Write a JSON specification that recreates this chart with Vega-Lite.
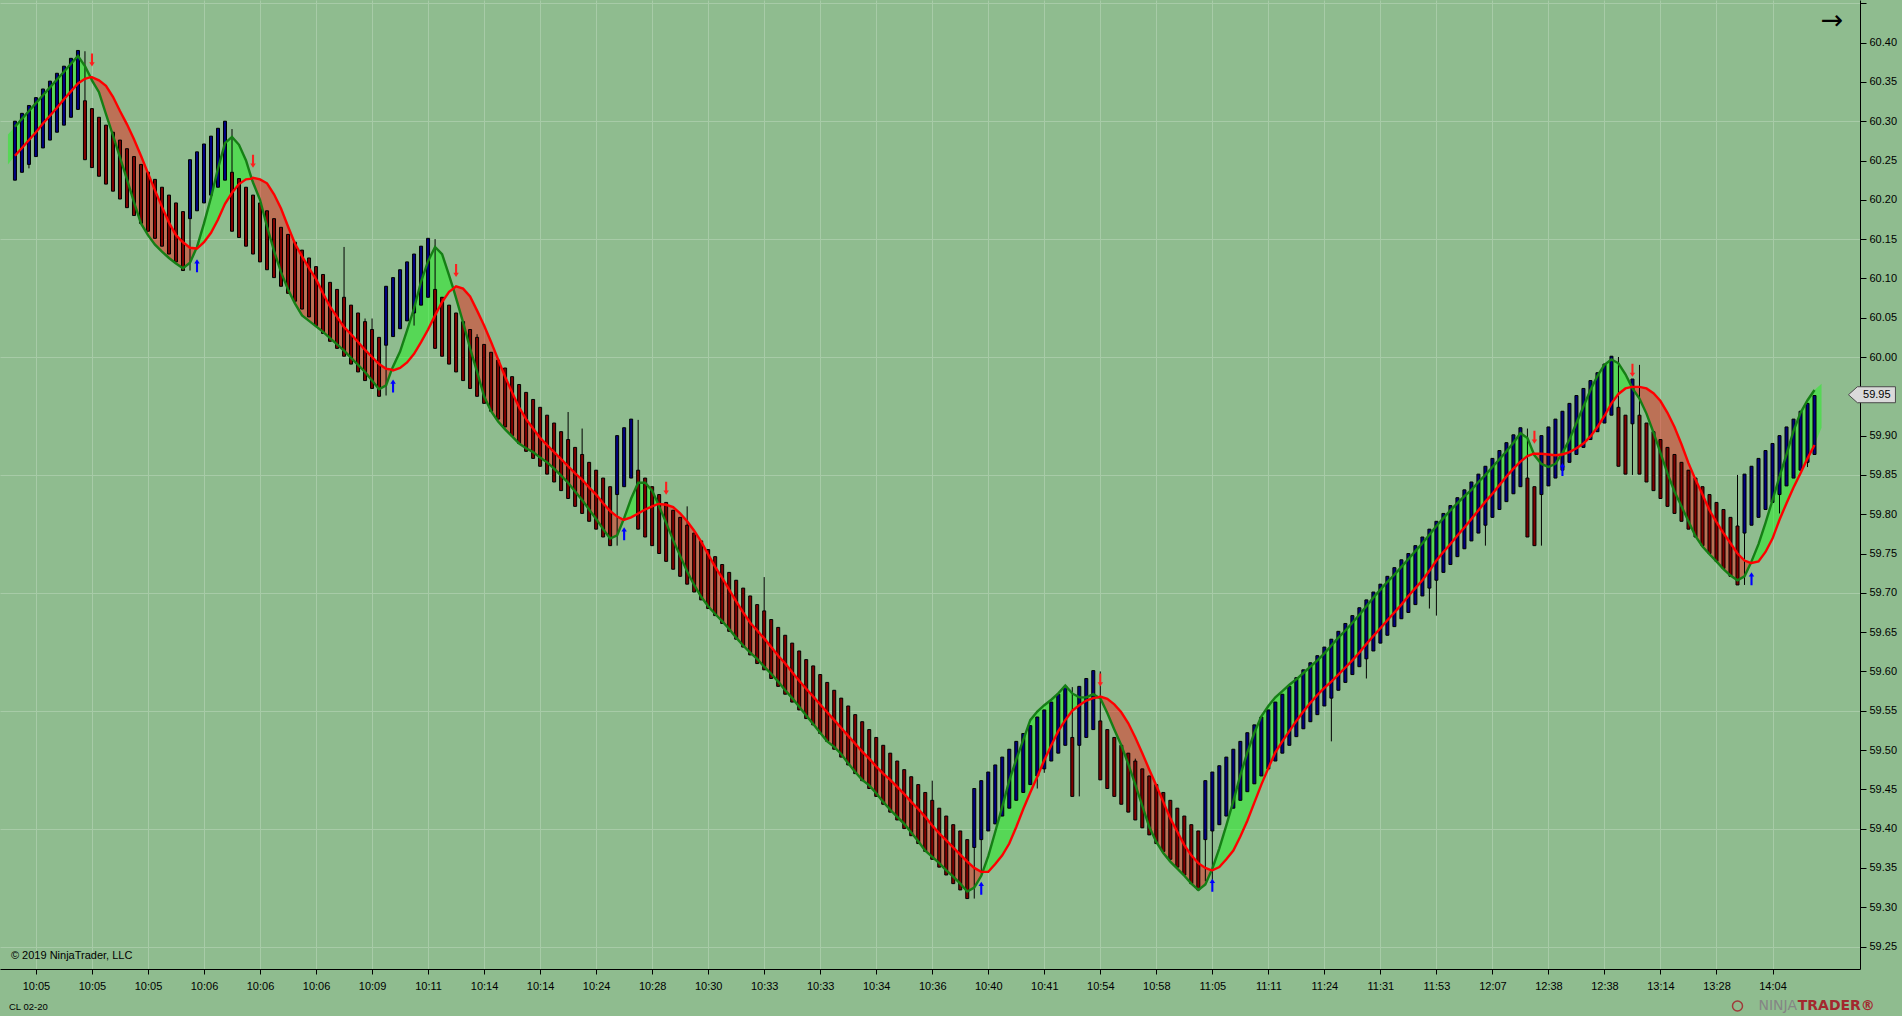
{
"$schema": "https://vega.github.io/schema/vega-lite/v6.json",
"width": 1860, "height": 969,
"autosize": {"type": "none"},
"padding": {"left": 0, "top": 0, "right": 42, "bottom": 47},
"background": "#8FBC8F",
"config": {"view": {"stroke": null, "fill": "#8FBC8F"}, "axis": {"labelFont": "Liberation Sans", "labelFontSize": 11, "labelColor": "#000000", "tickColor": "#000000", "domainColor": "#000000", "gridColor": "#A7CBA7", "gridWidth": 1}},
"datasets": {
"bars": [
{"i":0,"o":60.225,"h":60.3,"l":60.225,"c":60.3},
{"i":1,"o":60.235,"h":60.31,"l":60.235,"c":60.31},
{"i":2,"o":60.245,"h":60.32,"l":60.24,"c":60.32},
{"i":3,"o":60.255,"h":60.33,"l":60.255,"c":60.33},
{"i":4,"o":60.266,"h":60.341,"l":60.266,"c":60.341},
{"i":5,"o":60.276,"h":60.351,"l":60.276,"c":60.351},
{"i":6,"o":60.286,"h":60.361,"l":60.286,"c":60.361},
{"i":7,"o":60.295,"h":60.37,"l":60.295,"c":60.37},
{"i":8,"o":60.305,"h":60.38,"l":60.305,"c":60.38},
{"i":9,"o":60.315,"h":60.39,"l":60.315,"c":60.39},
{"i":10,"o":60.326,"h":60.389,"l":60.251,"c":60.251},
{"i":11,"o":60.316,"h":60.316,"l":60.241,"c":60.241},
{"i":12,"o":60.305,"h":60.305,"l":60.23,"c":60.23},
{"i":13,"o":60.295,"h":60.295,"l":60.22,"c":60.22},
{"i":14,"o":60.286,"h":60.286,"l":60.211,"c":60.211},
{"i":15,"o":60.276,"h":60.276,"l":60.201,"c":60.201},
{"i":16,"o":60.265,"h":60.265,"l":60.19,"c":60.19},
{"i":17,"o":60.255,"h":60.255,"l":60.18,"c":60.18},
{"i":18,"o":60.245,"h":60.245,"l":60.17,"c":60.17},
{"i":19,"o":60.235,"h":60.235,"l":60.16,"c":60.16},
{"i":20,"o":60.226,"h":60.226,"l":60.151,"c":60.151},
{"i":21,"o":60.216,"h":60.216,"l":60.141,"c":60.141},
{"i":22,"o":60.206,"h":60.206,"l":60.131,"c":60.131},
{"i":23,"o":60.196,"h":60.196,"l":60.121,"c":60.121},
{"i":24,"o":60.185,"h":60.185,"l":60.11,"c":60.11},
{"i":25,"o":60.176,"h":60.251,"l":60.11,"c":60.251},
{"i":26,"o":60.186,"h":60.261,"l":60.186,"c":60.261},
{"i":27,"o":60.196,"h":60.271,"l":60.196,"c":60.271},
{"i":28,"o":60.206,"h":60.281,"l":60.206,"c":60.281},
{"i":29,"o":60.216,"h":60.291,"l":60.216,"c":60.291},
{"i":30,"o":60.225,"h":60.3,"l":60.225,"c":60.3},
{"i":31,"o":60.235,"h":60.29,"l":60.16,"c":60.16},
{"i":32,"o":60.227,"h":60.227,"l":60.152,"c":60.152},
{"i":33,"o":60.216,"h":60.216,"l":60.141,"c":60.141},
{"i":34,"o":60.206,"h":60.206,"l":60.131,"c":60.131},
{"i":35,"o":60.196,"h":60.196,"l":60.121,"c":60.121},
{"i":36,"o":60.186,"h":60.186,"l":60.111,"c":60.111},
{"i":37,"o":60.176,"h":60.176,"l":60.101,"c":60.101},
{"i":38,"o":60.165,"h":60.165,"l":60.09,"c":60.09},
{"i":39,"o":60.156,"h":60.156,"l":60.081,"c":60.081},
{"i":40,"o":60.146,"h":60.146,"l":60.071,"c":60.071},
{"i":41,"o":60.136,"h":60.136,"l":60.061,"c":60.061},
{"i":42,"o":60.126,"h":60.126,"l":60.051,"c":60.051},
{"i":43,"o":60.115,"h":60.115,"l":60.04,"c":60.04},
{"i":44,"o":60.105,"h":60.105,"l":60.03,"c":60.03},
{"i":45,"o":60.095,"h":60.095,"l":60.02,"c":60.02},
{"i":46,"o":60.086,"h":60.086,"l":60.011,"c":60.011},
{"i":47,"o":60.076,"h":60.14,"l":60.001,"c":60.001},
{"i":48,"o":60.066,"h":60.066,"l":59.991,"c":59.991},
{"i":49,"o":60.056,"h":60.056,"l":59.981,"c":59.981},
{"i":50,"o":60.045,"h":60.049,"l":59.97,"c":59.97},
{"i":51,"o":60.035,"h":60.049,"l":59.96,"c":59.96},
{"i":52,"o":60.025,"h":60.025,"l":59.95,"c":59.95},
{"i":53,"o":60.015,"h":60.09,"l":59.951,"c":60.09},
{"i":54,"o":60.026,"h":60.101,"l":60.026,"c":60.101},
{"i":55,"o":60.036,"h":60.111,"l":60.036,"c":60.111},
{"i":56,"o":60.046,"h":60.121,"l":60.046,"c":60.121},
{"i":57,"o":60.056,"h":60.131,"l":60.04,"c":60.131},
{"i":58,"o":60.066,"h":60.141,"l":60.066,"c":60.141},
{"i":59,"o":60.076,"h":60.151,"l":60.076,"c":60.151},
{"i":60,"o":60.086,"h":60.15,"l":60.011,"c":60.011},
{"i":61,"o":60.076,"h":60.076,"l":60.001,"c":60.001},
{"i":62,"o":60.066,"h":60.066,"l":59.991,"c":59.991},
{"i":63,"o":60.056,"h":60.056,"l":59.981,"c":59.981},
{"i":64,"o":60.045,"h":60.045,"l":59.97,"c":59.97},
{"i":65,"o":60.035,"h":60.035,"l":59.96,"c":59.96},
{"i":66,"o":60.025,"h":60.029,"l":59.95,"c":59.95},
{"i":67,"o":60.016,"h":60.016,"l":59.941,"c":59.941},
{"i":68,"o":60.006,"h":60.006,"l":59.931,"c":59.931},
{"i":69,"o":59.996,"h":59.996,"l":59.921,"c":59.921},
{"i":70,"o":59.986,"h":59.986,"l":59.911,"c":59.911},
{"i":71,"o":59.975,"h":59.975,"l":59.9,"c":59.9},
{"i":72,"o":59.965,"h":59.965,"l":59.89,"c":59.89},
{"i":73,"o":59.955,"h":59.955,"l":59.88,"c":59.88},
{"i":74,"o":59.946,"h":59.946,"l":59.871,"c":59.871},
{"i":75,"o":59.936,"h":59.936,"l":59.861,"c":59.861},
{"i":76,"o":59.926,"h":59.926,"l":59.851,"c":59.851},
{"i":77,"o":59.916,"h":59.916,"l":59.841,"c":59.841},
{"i":78,"o":59.905,"h":59.905,"l":59.83,"c":59.83},
{"i":79,"o":59.895,"h":59.93,"l":59.82,"c":59.82},
{"i":80,"o":59.885,"h":59.885,"l":59.81,"c":59.81},
{"i":81,"o":59.876,"h":59.909,"l":59.801,"c":59.801},
{"i":82,"o":59.866,"h":59.866,"l":59.791,"c":59.791},
{"i":83,"o":59.856,"h":59.856,"l":59.781,"c":59.781},
{"i":84,"o":59.846,"h":59.846,"l":59.771,"c":59.771},
{"i":85,"o":59.835,"h":59.835,"l":59.76,"c":59.76},
{"i":86,"o":59.825,"h":59.9,"l":59.76,"c":59.9},
{"i":87,"o":59.835,"h":59.91,"l":59.835,"c":59.91},
{"i":88,"o":59.846,"h":59.921,"l":59.846,"c":59.921},
{"i":89,"o":59.856,"h":59.92,"l":59.781,"c":59.781},
{"i":90,"o":59.846,"h":59.846,"l":59.771,"c":59.771},
{"i":91,"o":59.835,"h":59.835,"l":59.76,"c":59.76},
{"i":92,"o":59.825,"h":59.825,"l":59.75,"c":59.75},
{"i":93,"o":59.815,"h":59.815,"l":59.74,"c":59.74},
{"i":94,"o":59.805,"h":59.805,"l":59.73,"c":59.73},
{"i":95,"o":59.796,"h":59.796,"l":59.721,"c":59.721},
{"i":96,"o":59.786,"h":59.81,"l":59.711,"c":59.711},
{"i":97,"o":59.776,"h":59.776,"l":59.701,"c":59.701},
{"i":98,"o":59.766,"h":59.766,"l":59.691,"c":59.691},
{"i":99,"o":59.755,"h":59.755,"l":59.68,"c":59.68},
{"i":100,"o":59.746,"h":59.746,"l":59.671,"c":59.671},
{"i":101,"o":59.736,"h":59.736,"l":59.661,"c":59.661},
{"i":102,"o":59.726,"h":59.726,"l":59.651,"c":59.651},
{"i":103,"o":59.716,"h":59.716,"l":59.641,"c":59.641},
{"i":104,"o":59.706,"h":59.706,"l":59.631,"c":59.631},
{"i":105,"o":59.696,"h":59.696,"l":59.621,"c":59.621},
{"i":106,"o":59.685,"h":59.685,"l":59.61,"c":59.61},
{"i":107,"o":59.677,"h":59.72,"l":59.602,"c":59.602},
{"i":108,"o":59.666,"h":59.666,"l":59.591,"c":59.591},
{"i":109,"o":59.656,"h":59.656,"l":59.581,"c":59.581},
{"i":110,"o":59.646,"h":59.646,"l":59.571,"c":59.571},
{"i":111,"o":59.636,"h":59.636,"l":59.561,"c":59.561},
{"i":112,"o":59.626,"h":59.626,"l":59.551,"c":59.551},
{"i":113,"o":59.615,"h":59.615,"l":59.54,"c":59.54},
{"i":114,"o":59.607,"h":59.607,"l":59.532,"c":59.532},
{"i":115,"o":59.596,"h":59.596,"l":59.521,"c":59.521},
{"i":116,"o":59.586,"h":59.586,"l":59.511,"c":59.511},
{"i":117,"o":59.576,"h":59.576,"l":59.501,"c":59.501},
{"i":118,"o":59.566,"h":59.566,"l":59.491,"c":59.491},
{"i":119,"o":59.556,"h":59.556,"l":59.481,"c":59.481},
{"i":120,"o":59.545,"h":59.545,"l":59.47,"c":59.47},
{"i":121,"o":59.536,"h":59.536,"l":59.461,"c":59.461},
{"i":122,"o":59.526,"h":59.526,"l":59.451,"c":59.451},
{"i":123,"o":59.516,"h":59.516,"l":59.441,"c":59.441},
{"i":124,"o":59.506,"h":59.506,"l":59.431,"c":59.431},
{"i":125,"o":59.496,"h":59.496,"l":59.421,"c":59.421},
{"i":126,"o":59.486,"h":59.486,"l":59.411,"c":59.411},
{"i":127,"o":59.475,"h":59.475,"l":59.4,"c":59.4},
{"i":128,"o":59.466,"h":59.466,"l":59.391,"c":59.391},
{"i":129,"o":59.456,"h":59.456,"l":59.381,"c":59.381},
{"i":130,"o":59.446,"h":59.446,"l":59.371,"c":59.371},
{"i":131,"o":59.436,"h":59.461,"l":59.361,"c":59.361},
{"i":132,"o":59.426,"h":59.426,"l":59.351,"c":59.351},
{"i":133,"o":59.416,"h":59.416,"l":59.341,"c":59.341},
{"i":134,"o":59.405,"h":59.405,"l":59.33,"c":59.33},
{"i":135,"o":59.397,"h":59.397,"l":59.322,"c":59.322},
{"i":136,"o":59.386,"h":59.386,"l":59.311,"c":59.311},
{"i":137,"o":59.376,"h":59.451,"l":59.311,"c":59.451},
{"i":138,"o":59.386,"h":59.461,"l":59.343,"c":59.461},
{"i":139,"o":59.397,"h":59.472,"l":59.397,"c":59.472},
{"i":140,"o":59.406,"h":59.481,"l":59.406,"c":59.481},
{"i":141,"o":59.416,"h":59.491,"l":59.416,"c":59.491},
{"i":142,"o":59.426,"h":59.501,"l":59.426,"c":59.501},
{"i":143,"o":59.436,"h":59.511,"l":59.436,"c":59.511},
{"i":144,"o":59.446,"h":59.521,"l":59.446,"c":59.521},
{"i":145,"o":59.456,"h":59.531,"l":59.456,"c":59.531},
{"i":146,"o":59.467,"h":59.542,"l":59.451,"c":59.542},
{"i":147,"o":59.476,"h":59.551,"l":59.471,"c":59.551},
{"i":148,"o":59.486,"h":59.561,"l":59.486,"c":59.561},
{"i":149,"o":59.496,"h":59.571,"l":59.496,"c":59.571},
{"i":150,"o":59.506,"h":59.581,"l":59.506,"c":59.581},
{"i":151,"o":59.516,"h":59.58,"l":59.441,"c":59.441},
{"i":152,"o":59.506,"h":59.581,"l":59.441,"c":59.581},
{"i":153,"o":59.516,"h":59.591,"l":59.516,"c":59.591},
{"i":154,"o":59.526,"h":59.601,"l":59.526,"c":59.601},
{"i":155,"o":59.537,"h":59.6,"l":59.462,"c":59.462},
{"i":156,"o":59.526,"h":59.526,"l":59.451,"c":59.451},
{"i":157,"o":59.516,"h":59.516,"l":59.441,"c":59.441},
{"i":158,"o":59.506,"h":59.506,"l":59.431,"c":59.431},
{"i":159,"o":59.496,"h":59.496,"l":59.421,"c":59.421},
{"i":160,"o":59.486,"h":59.489,"l":59.411,"c":59.411},
{"i":161,"o":59.476,"h":59.476,"l":59.401,"c":59.401},
{"i":162,"o":59.467,"h":59.467,"l":59.392,"c":59.392},
{"i":163,"o":59.456,"h":59.456,"l":59.381,"c":59.381},
{"i":164,"o":59.446,"h":59.446,"l":59.371,"c":59.371},
{"i":165,"o":59.436,"h":59.436,"l":59.361,"c":59.361},
{"i":166,"o":59.426,"h":59.426,"l":59.351,"c":59.351},
{"i":167,"o":59.416,"h":59.416,"l":59.341,"c":59.341},
{"i":168,"o":59.405,"h":59.405,"l":59.33,"c":59.33},
{"i":169,"o":59.397,"h":59.397,"l":59.322,"c":59.322},
{"i":170,"o":59.386,"h":59.461,"l":59.333,"c":59.461},
{"i":171,"o":59.397,"h":59.472,"l":59.33,"c":59.472},
{"i":172,"o":59.405,"h":59.48,"l":59.405,"c":59.48},
{"i":173,"o":59.416,"h":59.491,"l":59.416,"c":59.491},
{"i":174,"o":59.426,"h":59.501,"l":59.426,"c":59.501},
{"i":175,"o":59.436,"h":59.511,"l":59.436,"c":59.511},
{"i":176,"o":59.447,"h":59.522,"l":59.447,"c":59.522},
{"i":177,"o":59.457,"h":59.532,"l":59.457,"c":59.532},
{"i":178,"o":59.467,"h":59.542,"l":59.467,"c":59.542},
{"i":179,"o":59.476,"h":59.551,"l":59.476,"c":59.551},
{"i":180,"o":59.486,"h":59.561,"l":59.486,"c":59.561},
{"i":181,"o":59.496,"h":59.571,"l":59.496,"c":59.571},
{"i":182,"o":59.506,"h":59.581,"l":59.506,"c":59.581},
{"i":183,"o":59.517,"h":59.592,"l":59.517,"c":59.592},
{"i":184,"o":59.527,"h":59.602,"l":59.527,"c":59.602},
{"i":185,"o":59.536,"h":59.611,"l":59.536,"c":59.611},
{"i":186,"o":59.545,"h":59.62,"l":59.545,"c":59.62},
{"i":187,"o":59.556,"h":59.631,"l":59.556,"c":59.631},
{"i":188,"o":59.566,"h":59.641,"l":59.511,"c":59.641},
{"i":189,"o":59.576,"h":59.651,"l":59.576,"c":59.651},
{"i":190,"o":59.586,"h":59.661,"l":59.586,"c":59.661},
{"i":191,"o":59.596,"h":59.671,"l":59.596,"c":59.671},
{"i":192,"o":59.606,"h":59.681,"l":59.606,"c":59.681},
{"i":193,"o":59.616,"h":59.691,"l":59.591,"c":59.691},
{"i":194,"o":59.626,"h":59.701,"l":59.626,"c":59.701},
{"i":195,"o":59.636,"h":59.711,"l":59.636,"c":59.711},
{"i":196,"o":59.646,"h":59.721,"l":59.646,"c":59.721},
{"i":197,"o":59.657,"h":59.732,"l":59.657,"c":59.732},
{"i":198,"o":59.667,"h":59.742,"l":59.667,"c":59.742},
{"i":199,"o":59.675,"h":59.75,"l":59.675,"c":59.75},
{"i":200,"o":59.685,"h":59.76,"l":59.685,"c":59.76},
{"i":201,"o":59.696,"h":59.771,"l":59.696,"c":59.771},
{"i":202,"o":59.706,"h":59.781,"l":59.68,"c":59.781},
{"i":203,"o":59.716,"h":59.791,"l":59.671,"c":59.791},
{"i":204,"o":59.726,"h":59.801,"l":59.726,"c":59.801},
{"i":205,"o":59.736,"h":59.811,"l":59.736,"c":59.811},
{"i":206,"o":59.746,"h":59.821,"l":59.746,"c":59.821},
{"i":207,"o":59.756,"h":59.831,"l":59.756,"c":59.831},
{"i":208,"o":59.766,"h":59.841,"l":59.766,"c":59.841},
{"i":209,"o":59.776,"h":59.851,"l":59.776,"c":59.851},
{"i":210,"o":59.786,"h":59.861,"l":59.76,"c":59.861},
{"i":211,"o":59.796,"h":59.871,"l":59.796,"c":59.871},
{"i":212,"o":59.806,"h":59.881,"l":59.806,"c":59.881},
{"i":213,"o":59.816,"h":59.891,"l":59.816,"c":59.891},
{"i":214,"o":59.826,"h":59.901,"l":59.826,"c":59.901},
{"i":215,"o":59.835,"h":59.91,"l":59.835,"c":59.91},
{"i":216,"o":59.846,"h":59.909,"l":59.771,"c":59.771},
{"i":217,"o":59.835,"h":59.835,"l":59.76,"c":59.76},
{"i":218,"o":59.825,"h":59.9,"l":59.76,"c":59.9},
{"i":219,"o":59.836,"h":59.911,"l":59.836,"c":59.911},
{"i":220,"o":59.846,"h":59.921,"l":59.846,"c":59.921},
{"i":221,"o":59.856,"h":59.931,"l":59.856,"c":59.931},
{"i":222,"o":59.866,"h":59.941,"l":59.866,"c":59.941},
{"i":223,"o":59.876,"h":59.951,"l":59.876,"c":59.951},
{"i":224,"o":59.885,"h":59.96,"l":59.885,"c":59.96},
{"i":225,"o":59.895,"h":59.97,"l":59.895,"c":59.97},
{"i":226,"o":59.905,"h":59.98,"l":59.905,"c":59.98},
{"i":227,"o":59.916,"h":59.991,"l":59.916,"c":59.991},
{"i":228,"o":59.926,"h":60.001,"l":59.926,"c":60.001},
{"i":229,"o":59.936,"h":60.0,"l":59.861,"c":59.861},
{"i":230,"o":59.926,"h":59.926,"l":59.851,"c":59.851},
{"i":231,"o":59.915,"h":59.972,"l":59.85,"c":59.972},
{"i":232,"o":59.926,"h":59.99,"l":59.851,"c":59.851},
{"i":233,"o":59.916,"h":59.916,"l":59.841,"c":59.841},
{"i":234,"o":59.905,"h":59.905,"l":59.83,"c":59.83},
{"i":235,"o":59.895,"h":59.895,"l":59.82,"c":59.82},
{"i":236,"o":59.885,"h":59.885,"l":59.81,"c":59.81},
{"i":237,"o":59.876,"h":59.876,"l":59.801,"c":59.801},
{"i":238,"o":59.866,"h":59.866,"l":59.791,"c":59.791},
{"i":239,"o":59.856,"h":59.856,"l":59.781,"c":59.781},
{"i":240,"o":59.846,"h":59.846,"l":59.771,"c":59.771},
{"i":241,"o":59.835,"h":59.835,"l":59.76,"c":59.76},
{"i":242,"o":59.825,"h":59.825,"l":59.75,"c":59.75},
{"i":243,"o":59.815,"h":59.815,"l":59.74,"c":59.74},
{"i":244,"o":59.806,"h":59.806,"l":59.731,"c":59.731},
{"i":245,"o":59.796,"h":59.796,"l":59.721,"c":59.721},
{"i":246,"o":59.785,"h":59.85,"l":59.71,"c":59.71},
{"i":247,"o":59.776,"h":59.851,"l":59.71,"c":59.851},
{"i":248,"o":59.786,"h":59.861,"l":59.786,"c":59.861},
{"i":249,"o":59.796,"h":59.871,"l":59.796,"c":59.871},
{"i":250,"o":59.806,"h":59.881,"l":59.806,"c":59.881},
{"i":251,"o":59.815,"h":59.89,"l":59.815,"c":59.89},
{"i":252,"o":59.825,"h":59.9,"l":59.801,"c":59.9},
{"i":253,"o":59.836,"h":59.911,"l":59.836,"c":59.911},
{"i":254,"o":59.846,"h":59.921,"l":59.846,"c":59.921},
{"i":255,"o":59.856,"h":59.931,"l":59.856,"c":59.931},
{"i":256,"o":59.866,"h":59.941,"l":59.86,"c":59.941},
{"i":257,"o":59.876,"h":59.951,"l":59.876,"c":59.951}
],
"ma": [
{"i":-1,"f":60.283,"s":60.245,"g":0,"t":"up"},
{"i":0,"f":60.293,"s":60.256,"g":0,"t":"up"},
{"i":1,"f":60.303,"s":60.266,"g":0,"t":"up"},
{"i":2,"f":60.313,"s":60.276,"g":0,"t":"up"},
{"i":3,"f":60.323,"s":60.286,"g":0,"t":"up"},
{"i":4,"f":60.333,"s":60.297,"g":0,"t":"up"},
{"i":5,"f":60.343,"s":60.307,"g":0,"t":"up"},
{"i":6,"f":60.353,"s":60.317,"g":0,"t":"up"},
{"i":7,"f":60.363,"s":60.328,"g":0,"t":"up"},
{"i":8,"f":60.373,"s":60.338,"g":0,"t":"up"},
{"i":9,"f":60.383,"s":60.348,"g":0,"t":"up"},
{"i":10,"f":60.37,"s":60.354,"g":0,"t":"up"},
{"i":10.8,"f":60.356,"s":60.356,"g":0,"t":"up"},
{"i":10.8,"f":60.356,"s":60.356,"g":1,"t":"down"},
{"i":11,"f":60.352,"s":60.356,"g":1,"t":"down"},
{"i":12,"f":60.337,"s":60.352,"g":1,"t":"down"},
{"i":13,"f":60.309,"s":60.345,"g":1,"t":"down"},
{"i":14,"f":60.282,"s":60.331,"g":1,"t":"down"},
{"i":15,"f":60.254,"s":60.313,"g":1,"t":"down"},
{"i":16,"f":60.226,"s":60.296,"g":1,"t":"down"},
{"i":17,"f":60.197,"s":60.277,"g":1,"t":"down"},
{"i":18,"f":60.17,"s":60.256,"g":1,"t":"down"},
{"i":19,"f":60.155,"s":60.234,"g":1,"t":"down"},
{"i":20,"f":60.143,"s":60.212,"g":1,"t":"down"},
{"i":21,"f":60.134,"s":60.191,"g":1,"t":"down"},
{"i":22,"f":60.126,"s":60.171,"g":1,"t":"down"},
{"i":23,"f":60.119,"s":60.155,"g":1,"t":"down"},
{"i":24,"f":60.113,"s":60.146,"g":1,"t":"down"},
{"i":25,"f":60.12,"s":60.139,"g":1,"t":"down"},
{"i":25.9,"f":60.138,"s":60.138,"g":1,"t":"down"},
{"i":25.9,"f":60.138,"s":60.138,"g":2,"t":"up"},
{"i":26,"f":60.14,"s":60.138,"g":2,"t":"up"},
{"i":27,"f":60.17,"s":60.146,"g":2,"t":"up"},
{"i":28,"f":60.203,"s":60.158,"g":2,"t":"up"},
{"i":29,"f":60.24,"s":60.175,"g":2,"t":"up"},
{"i":30,"f":60.272,"s":60.195,"g":2,"t":"up"},
{"i":31,"f":60.28,"s":60.209,"g":2,"t":"up"},
{"i":32,"f":60.27,"s":60.22,"g":2,"t":"up"},
{"i":33,"f":60.25,"s":60.226,"g":2,"t":"up"},
{"i":33.8,"f":60.227,"s":60.227,"g":2,"t":"up"},
{"i":33.8,"f":60.227,"s":60.227,"g":3,"t":"down"},
{"i":34,"f":60.222,"s":60.228,"g":3,"t":"down"},
{"i":35,"f":60.2,"s":60.226,"g":3,"t":"down"},
{"i":36,"f":60.166,"s":60.221,"g":3,"t":"down"},
{"i":37,"f":60.135,"s":60.207,"g":3,"t":"down"},
{"i":38,"f":60.108,"s":60.189,"g":3,"t":"down"},
{"i":39,"f":60.086,"s":60.166,"g":3,"t":"down"},
{"i":40,"f":60.068,"s":60.144,"g":3,"t":"down"},
{"i":41,"f":60.053,"s":60.128,"g":3,"t":"down"},
{"i":42,"f":60.046,"s":60.113,"g":3,"t":"down"},
{"i":43,"f":60.039,"s":60.099,"g":3,"t":"down"},
{"i":44,"f":60.032,"s":60.081,"g":3,"t":"down"},
{"i":45,"f":60.024,"s":60.064,"g":3,"t":"down"},
{"i":46,"f":60.016,"s":60.051,"g":3,"t":"down"},
{"i":47,"f":60.008,"s":60.038,"g":3,"t":"down"},
{"i":48,"f":59.999,"s":60.029,"g":3,"t":"down"},
{"i":49,"f":59.99,"s":60.019,"g":3,"t":"down"},
{"i":50,"f":59.981,"s":60.009,"g":3,"t":"down"},
{"i":51,"f":59.97,"s":60.0,"g":3,"t":"down"},
{"i":52,"f":59.959,"s":59.991,"g":3,"t":"down"},
{"i":53,"f":59.964,"s":59.985,"g":3,"t":"down"},
{"i":53.8,"f":59.984,"s":59.984,"g":3,"t":"down"},
{"i":53.8,"f":59.984,"s":59.984,"g":4,"t":"up"},
{"i":54,"f":59.988,"s":59.983,"g":4,"t":"up"},
{"i":55,"f":60.007,"s":59.986,"g":4,"t":"up"},
{"i":56,"f":60.034,"s":59.993,"g":4,"t":"up"},
{"i":57,"f":60.062,"s":60.004,"g":4,"t":"up"},
{"i":58,"f":60.096,"s":60.019,"g":4,"t":"up"},
{"i":59,"f":60.122,"s":60.035,"g":4,"t":"up"},
{"i":60,"f":60.14,"s":60.053,"g":4,"t":"up"},
{"i":61,"f":60.131,"s":60.07,"g":4,"t":"up"},
{"i":62,"f":60.104,"s":60.083,"g":4,"t":"up"},
{"i":62.6,"f":60.087,"s":60.087,"g":4,"t":"up"},
{"i":62.6,"f":60.087,"s":60.087,"g":5,"t":"down"},
{"i":63,"f":60.075,"s":60.09,"g":5,"t":"down"},
{"i":64,"f":60.044,"s":60.087,"g":5,"t":"down"},
{"i":65,"f":60.011,"s":60.077,"g":5,"t":"down"},
{"i":66,"f":59.981,"s":60.059,"g":5,"t":"down"},
{"i":67,"f":59.95,"s":60.04,"g":5,"t":"down"},
{"i":68,"f":59.931,"s":60.019,"g":5,"t":"down"},
{"i":69,"f":59.918,"s":59.997,"g":5,"t":"down"},
{"i":70,"f":59.908,"s":59.975,"g":5,"t":"down"},
{"i":71,"f":59.899,"s":59.955,"g":5,"t":"down"},
{"i":72,"f":59.89,"s":59.936,"g":5,"t":"down"},
{"i":73,"f":59.884,"s":59.921,"g":5,"t":"down"},
{"i":74,"f":59.879,"s":59.909,"g":5,"t":"down"},
{"i":75,"f":59.872,"s":59.897,"g":5,"t":"down"},
{"i":76,"f":59.866,"s":59.888,"g":5,"t":"down"},
{"i":77,"f":59.858,"s":59.879,"g":5,"t":"down"},
{"i":78,"f":59.849,"s":59.87,"g":5,"t":"down"},
{"i":79,"f":59.84,"s":59.861,"g":5,"t":"down"},
{"i":80,"f":59.829,"s":59.852,"g":5,"t":"down"},
{"i":81,"f":59.818,"s":59.844,"g":5,"t":"down"},
{"i":82,"f":59.806,"s":59.834,"g":5,"t":"down"},
{"i":83,"f":59.794,"s":59.825,"g":5,"t":"down"},
{"i":84,"f":59.781,"s":59.814,"g":5,"t":"down"},
{"i":85,"f":59.769,"s":59.804,"g":5,"t":"down"},
{"i":86,"f":59.773,"s":59.797,"g":5,"t":"down"},
{"i":86.9,"f":59.793,"s":59.793,"g":5,"t":"down"},
{"i":86.9,"f":59.793,"s":59.793,"g":6,"t":"up"},
{"i":87,"f":59.795,"s":59.793,"g":6,"t":"up"},
{"i":88,"f":59.82,"s":59.796,"g":6,"t":"up"},
{"i":89,"f":59.84,"s":59.801,"g":6,"t":"up"},
{"i":90,"f":59.84,"s":59.806,"g":6,"t":"up"},
{"i":91,"f":59.83,"s":59.81,"g":6,"t":"up"},
{"i":91.87,"f":59.813,"s":59.813,"g":6,"t":"up"},
{"i":91.87,"f":59.813,"s":59.813,"g":7,"t":"down"},
{"i":92,"f":59.81,"s":59.813,"g":7,"t":"down"},
{"i":93,"f":59.789,"s":59.812,"g":7,"t":"down"},
{"i":94,"f":59.767,"s":59.809,"g":7,"t":"down"},
{"i":95,"f":59.747,"s":59.801,"g":7,"t":"down"},
{"i":96,"f":59.727,"s":59.791,"g":7,"t":"down"},
{"i":97,"f":59.71,"s":59.779,"g":7,"t":"down"},
{"i":98,"f":59.695,"s":59.765,"g":7,"t":"down"},
{"i":99,"f":59.683,"s":59.749,"g":7,"t":"down"},
{"i":100,"f":59.673,"s":59.733,"g":7,"t":"down"},
{"i":101,"f":59.664,"s":59.719,"g":7,"t":"down"},
{"i":102,"f":59.654,"s":59.704,"g":7,"t":"down"},
{"i":103,"f":59.643,"s":59.689,"g":7,"t":"down"},
{"i":104,"f":59.633,"s":59.675,"g":7,"t":"down"},
{"i":105,"f":59.624,"s":59.662,"g":7,"t":"down"},
{"i":106,"f":59.616,"s":59.652,"g":7,"t":"down"},
{"i":107,"f":59.606,"s":59.642,"g":7,"t":"down"},
{"i":108,"f":59.597,"s":59.631,"g":7,"t":"down"},
{"i":109,"f":59.587,"s":59.62,"g":7,"t":"down"},
{"i":110,"f":59.576,"s":59.61,"g":7,"t":"down"},
{"i":111,"f":59.566,"s":59.599,"g":7,"t":"down"},
{"i":112,"f":59.555,"s":59.588,"g":7,"t":"down"},
{"i":113,"f":59.544,"s":59.578,"g":7,"t":"down"},
{"i":114,"f":59.533,"s":59.568,"g":7,"t":"down"},
{"i":115,"f":59.522,"s":59.558,"g":7,"t":"down"},
{"i":116,"f":59.511,"s":59.548,"g":7,"t":"down"},
{"i":117,"f":59.504,"s":59.538,"g":7,"t":"down"},
{"i":118,"f":59.495,"s":59.528,"g":7,"t":"down"},
{"i":119,"f":59.483,"s":59.518,"g":7,"t":"down"},
{"i":120,"f":59.472,"s":59.508,"g":7,"t":"down"},
{"i":121,"f":59.462,"s":59.498,"g":7,"t":"down"},
{"i":122,"f":59.455,"s":59.489,"g":7,"t":"down"},
{"i":123,"f":59.445,"s":59.479,"g":7,"t":"down"},
{"i":124,"f":59.434,"s":59.47,"g":7,"t":"down"},
{"i":125,"f":59.424,"s":59.462,"g":7,"t":"down"},
{"i":126,"f":59.415,"s":59.453,"g":7,"t":"down"},
{"i":127,"f":59.406,"s":59.444,"g":7,"t":"down"},
{"i":128,"f":59.395,"s":59.434,"g":7,"t":"down"},
{"i":129,"f":59.384,"s":59.425,"g":7,"t":"down"},
{"i":130,"f":59.372,"s":59.415,"g":7,"t":"down"},
{"i":131,"f":59.364,"s":59.404,"g":7,"t":"down"},
{"i":132,"f":59.356,"s":59.394,"g":7,"t":"down"},
{"i":133,"f":59.347,"s":59.385,"g":7,"t":"down"},
{"i":134,"f":59.339,"s":59.376,"g":7,"t":"down"},
{"i":135,"f":59.33,"s":59.367,"g":7,"t":"down"},
{"i":136,"f":59.32,"s":59.358,"g":7,"t":"down"},
{"i":137,"f":59.325,"s":59.35,"g":7,"t":"down"},
{"i":138,"f":59.34,"s":59.345,"g":7,"t":"down"},
{"i":138.2,"f":59.345,"s":59.345,"g":7,"t":"down"},
{"i":138.2,"f":59.345,"s":59.345,"g":8,"t":"up"},
{"i":139,"f":59.365,"s":59.345,"g":8,"t":"up"},
{"i":140,"f":59.396,"s":59.355,"g":8,"t":"up"},
{"i":141,"f":59.428,"s":59.366,"g":8,"t":"up"},
{"i":142,"f":59.461,"s":59.381,"g":8,"t":"up"},
{"i":143,"f":59.488,"s":59.402,"g":8,"t":"up"},
{"i":144,"f":59.513,"s":59.425,"g":8,"t":"up"},
{"i":145,"f":59.538,"s":59.446,"g":8,"t":"up"},
{"i":146,"f":59.549,"s":59.466,"g":8,"t":"up"},
{"i":147,"f":59.557,"s":59.487,"g":8,"t":"up"},
{"i":148,"f":59.564,"s":59.506,"g":8,"t":"up"},
{"i":149,"f":59.572,"s":59.524,"g":8,"t":"up"},
{"i":150,"f":59.582,"s":59.538,"g":8,"t":"up"},
{"i":151,"f":59.572,"s":59.55,"g":8,"t":"up"},
{"i":152,"f":59.567,"s":59.557,"g":8,"t":"up"},
{"i":153,"f":59.567,"s":59.563,"g":8,"t":"up"},
{"i":154,"f":59.571,"s":59.566,"g":8,"t":"up"},
{"i":154.7,"f":59.567,"s":59.567,"g":8,"t":"up"},
{"i":154.7,"f":59.567,"s":59.567,"g":9,"t":"down"},
{"i":155,"f":59.566,"s":59.568,"g":9,"t":"down"},
{"i":156,"f":59.547,"s":59.565,"g":9,"t":"down"},
{"i":157,"f":59.526,"s":59.558,"g":9,"t":"down"},
{"i":158,"f":59.506,"s":59.548,"g":9,"t":"down"},
{"i":159,"f":59.482,"s":59.534,"g":9,"t":"down"},
{"i":160,"f":59.456,"s":59.516,"g":9,"t":"down"},
{"i":161,"f":59.429,"s":59.496,"g":9,"t":"down"},
{"i":162,"f":59.402,"s":59.475,"g":9,"t":"down"},
{"i":163,"f":59.383,"s":59.455,"g":9,"t":"down"},
{"i":164,"f":59.369,"s":59.434,"g":9,"t":"down"},
{"i":165,"f":59.358,"s":59.413,"g":9,"t":"down"},
{"i":166,"f":59.349,"s":59.396,"g":9,"t":"down"},
{"i":167,"f":59.34,"s":59.379,"g":9,"t":"down"},
{"i":168,"f":59.33,"s":59.366,"g":9,"t":"down"},
{"i":169,"f":59.322,"s":59.356,"g":9,"t":"down"},
{"i":170,"f":59.329,"s":59.35,"g":9,"t":"down"},
{"i":170.9,"f":59.347,"s":59.347,"g":9,"t":"down"},
{"i":170.9,"f":59.347,"s":59.347,"g":10,"t":"up"},
{"i":171,"f":59.349,"s":59.347,"g":10,"t":"up"},
{"i":172,"f":59.375,"s":59.351,"g":10,"t":"up"},
{"i":173,"f":59.404,"s":59.361,"g":10,"t":"up"},
{"i":174,"f":59.435,"s":59.372,"g":10,"t":"up"},
{"i":175,"f":59.468,"s":59.39,"g":10,"t":"up"},
{"i":176,"f":59.497,"s":59.41,"g":10,"t":"up"},
{"i":177,"f":59.522,"s":59.433,"g":10,"t":"up"},
{"i":178,"f":59.543,"s":59.456,"g":10,"t":"up"},
{"i":179,"f":59.556,"s":59.477,"g":10,"t":"up"},
{"i":180,"f":59.567,"s":59.497,"g":10,"t":"up"},
{"i":181,"f":59.575,"s":59.511,"g":10,"t":"up"},
{"i":182,"f":59.583,"s":59.524,"g":10,"t":"up"},
{"i":183,"f":59.59,"s":59.537,"g":10,"t":"up"},
{"i":184,"f":59.598,"s":59.549,"g":10,"t":"up"},
{"i":185,"f":59.606,"s":59.56,"g":10,"t":"up"},
{"i":186,"f":59.614,"s":59.57,"g":10,"t":"up"},
{"i":187,"f":59.623,"s":59.579,"g":10,"t":"up"},
{"i":188,"f":59.633,"s":59.587,"g":10,"t":"up"},
{"i":189,"f":59.643,"s":59.596,"g":10,"t":"up"},
{"i":190,"f":59.652,"s":59.605,"g":10,"t":"up"},
{"i":191,"f":59.662,"s":59.614,"g":10,"t":"up"},
{"i":192,"f":59.672,"s":59.624,"g":10,"t":"up"},
{"i":193,"f":59.683,"s":59.635,"g":10,"t":"up"},
{"i":194,"f":59.694,"s":59.645,"g":10,"t":"up"},
{"i":195,"f":59.704,"s":59.655,"g":10,"t":"up"},
{"i":196,"f":59.714,"s":59.665,"g":10,"t":"up"},
{"i":197,"f":59.723,"s":59.675,"g":10,"t":"up"},
{"i":198,"f":59.733,"s":59.685,"g":10,"t":"up"},
{"i":199,"f":59.743,"s":59.696,"g":10,"t":"up"},
{"i":200,"f":59.753,"s":59.706,"g":10,"t":"up"},
{"i":201,"f":59.763,"s":59.716,"g":10,"t":"up"},
{"i":202,"f":59.774,"s":59.728,"g":10,"t":"up"},
{"i":203,"f":59.785,"s":59.741,"g":10,"t":"up"},
{"i":204,"f":59.795,"s":59.752,"g":10,"t":"up"},
{"i":205,"f":59.805,"s":59.762,"g":10,"t":"up"},
{"i":206,"f":59.814,"s":59.773,"g":10,"t":"up"},
{"i":207,"f":59.823,"s":59.783,"g":10,"t":"up"},
{"i":208,"f":59.831,"s":59.794,"g":10,"t":"up"},
{"i":209,"f":59.841,"s":59.805,"g":10,"t":"up"},
{"i":210,"f":59.85,"s":59.816,"g":10,"t":"up"},
{"i":211,"f":59.86,"s":59.826,"g":10,"t":"up"},
{"i":212,"f":59.87,"s":59.837,"g":10,"t":"up"},
{"i":213,"f":59.88,"s":59.848,"g":10,"t":"up"},
{"i":214,"f":59.891,"s":59.858,"g":10,"t":"up"},
{"i":215,"f":59.903,"s":59.867,"g":10,"t":"up"},
{"i":216,"f":59.897,"s":59.874,"g":10,"t":"up"},
{"i":216.9,"f":59.877,"s":59.877,"g":10,"t":"up"},
{"i":216.9,"f":59.877,"s":59.877,"g":11,"t":"down"},
{"i":217,"f":59.875,"s":59.877,"g":11,"t":"down"},
{"i":218,"f":59.864,"s":59.877,"g":11,"t":"down"},
{"i":219,"f":59.86,"s":59.876,"g":11,"t":"down"},
{"i":220,"f":59.864,"s":59.875,"g":11,"t":"down"},
{"i":220.85,"f":59.876,"s":59.876,"g":11,"t":"down"},
{"i":220.85,"f":59.876,"s":59.876,"g":12,"t":"up"},
{"i":221,"f":59.878,"s":59.876,"g":12,"t":"up"},
{"i":222,"f":59.895,"s":59.879,"g":12,"t":"up"},
{"i":223,"f":59.916,"s":59.884,"g":12,"t":"up"},
{"i":224,"f":59.937,"s":59.89,"g":12,"t":"up"},
{"i":225,"f":59.958,"s":59.899,"g":12,"t":"up"},
{"i":226,"f":59.976,"s":59.911,"g":12,"t":"up"},
{"i":227,"f":59.99,"s":59.925,"g":12,"t":"up"},
{"i":228,"f":59.997,"s":59.941,"g":12,"t":"up"},
{"i":229,"f":59.992,"s":59.953,"g":12,"t":"up"},
{"i":230,"f":59.978,"s":59.96,"g":12,"t":"up"},
{"i":230.9,"f":59.962,"s":59.962,"g":12,"t":"up"},
{"i":230.9,"f":59.962,"s":59.962,"g":13,"t":"down"},
{"i":231,"f":59.96,"s":59.962,"g":13,"t":"down"},
{"i":232,"f":59.947,"s":59.962,"g":13,"t":"down"},
{"i":233,"f":59.928,"s":59.96,"g":13,"t":"down"},
{"i":234,"f":59.904,"s":59.954,"g":13,"t":"down"},
{"i":235,"f":59.878,"s":59.944,"g":13,"t":"down"},
{"i":236,"f":59.852,"s":59.929,"g":13,"t":"down"},
{"i":237,"f":59.829,"s":59.911,"g":13,"t":"down"},
{"i":238,"f":59.81,"s":59.889,"g":13,"t":"down"},
{"i":239,"f":59.791,"s":59.865,"g":13,"t":"down"},
{"i":240,"f":59.772,"s":59.844,"g":13,"t":"down"},
{"i":241,"f":59.759,"s":59.825,"g":13,"t":"down"},
{"i":242,"f":59.749,"s":59.805,"g":13,"t":"down"},
{"i":243,"f":59.74,"s":59.79,"g":13,"t":"down"},
{"i":244,"f":59.73,"s":59.776,"g":13,"t":"down"},
{"i":245,"f":59.722,"s":59.763,"g":13,"t":"down"},
{"i":246,"f":59.716,"s":59.75,"g":13,"t":"down"},
{"i":247,"f":59.721,"s":59.741,"g":13,"t":"down"},
{"i":247.9,"f":59.738,"s":59.738,"g":13,"t":"down"},
{"i":247.9,"f":59.738,"s":59.738,"g":14,"t":"up"},
{"i":248,"f":59.74,"s":59.738,"g":14,"t":"up"},
{"i":249,"f":59.762,"s":59.74,"g":14,"t":"up"},
{"i":250,"f":59.789,"s":59.752,"g":14,"t":"up"},
{"i":251,"f":59.818,"s":59.769,"g":14,"t":"up"},
{"i":252,"f":59.848,"s":59.793,"g":14,"t":"up"},
{"i":253,"f":59.876,"s":59.814,"g":14,"t":"up"},
{"i":254,"f":59.906,"s":59.834,"g":14,"t":"up"},
{"i":255,"f":59.929,"s":59.852,"g":14,"t":"up"},
{"i":256,"f":59.945,"s":59.871,"g":14,"t":"up"},
{"i":257,"f":59.958,"s":59.888,"g":14,"t":"up"},
{"i":258,"f":59.966,"s":59.91,"g":14,"t":"up"}
],
"arrows": [
{"i":11,"p":60.378,"d":"down"},{"i":34,"p":60.249,"d":"down"},{"i":63,"p":60.11,"d":"down"},{"i":93,"p":59.833,"d":"down"},{"i":155,"p":59.589,"d":"down"},{"i":217,"p":59.898,"d":"down"},{"i":231,"p":59.983,"d":"down"},
{"i":26,"p":60.116,"d":"up"},{"i":54,"p":59.963,"d":"up"},{"i":87,"p":59.775,"d":"up"},{"i":138,"p":59.324,"d":"up"},{"i":171,"p":59.328,"d":"up"},{"i":221,"p":59.857,"d":"up"},{"i":248,"p":59.718,"d":"up"}
]
},
"layer": [
{"data": {"name": "ma"},
 "mark": {"type": "area", "opacity": 0.4},
 "encoding": {
  "x": {"field": "i", "type": "quantitative", "title": null,
   "scale": {"domain": [-1.42, 262.78], "nice": false, "zero": false},
   "axis": {"orient": "bottom", "values": [3,11,19,27,35,43,51,59,67,75,83,91,99,107,115,123,131,139,147,155,163,171,179,187,195,203,211,219,227,235,243,251],
    "labelExpr": "['10:05','10:05','10:05','10:06','10:06','10:06','10:09','10:11','10:14','10:14','10:24','10:28','10:30','10:33','10:33','10:34','10:36','10:40','10:41','10:54','10:58','11:05','11:11','11:24','11:31','11:53','12:07','12:38','12:38','13:14','13:28','14:04'][round((datum.value-3)/8)]",
    "grid": true, "tickSize": 5, "labelPadding": 6, "labelFlush": false, "labelOverlap": false, "domainWidth": 1, "tickWidth": 1}},
  "y": {"field": "f", "type": "quantitative", "title": null, "stack": null,
   "scale": {"domain": [59.2214, 60.4542], "nice": false, "zero": false},
   "axis": {"orient": "right", "values": [59.25,59.3,59.35,59.4,59.45,59.5,59.55,59.6,59.65,59.7,59.75,59.8,59.85,59.9,59.95,60,60.05,60.1,60.15,60.2,60.25,60.3,60.35,60.4,60.45],
    "labelExpr": "datum.value > 60.42 || abs(datum.value - 59.95) < 0.001 ? '' : format(datum.value, '.2f')",
    "grid": true, "gridOpacity": {"condition": {"test": "round(datum.value*100) % 15 == 0", "value": 1}, "value": 0},
    "tickSize": 6, "labelPadding": 3, "labelFlush": false, "labelOverlap": false, "domainWidth": 1, "tickWidth": 1}},
  "y2": {"field": "s"},
  "color": {"field": "t", "type": "nominal", "scale": {"domain": ["up", "down"], "range": ["#00FF00", "#FF0000"]}, "legend": null},
  "detail": {"field": "g", "type": "nominal"}
 }},
{"data": {"name": "bars"},
 "mark": {"type": "rule", "color": "#000000", "strokeWidth": 1},
 "encoding": {
  "x": {"field": "i", "type": "quantitative", "title": null},
  "y": {"field": "l", "type": "quantitative", "title": null},
  "y2": {"field": "h"}
 }},
{"data": {"name": "bars"},
 "mark": {"type": "bar", "size": 3, "stroke": "#000000", "strokeWidth": 1, "orient": "vertical"},
 "encoding": {
  "x": {"field": "i", "type": "quantitative", "title": null},
  "y": {"field": "o", "type": "quantitative", "title": null},
  "y2": {"field": "c"},
  "color": {"condition": {"test": "datum.c > datum.o", "value": "#000080"}, "value": "#800000"}
 }},
{"data": {"name": "ma"},
 "transform": [{"filter": "datum.i >= 0 && datum.i <= 257"}],
 "mark": {"type": "line", "color": "#157F15", "strokeWidth": 2.4},
 "encoding": {
  "x": {"field": "i", "type": "quantitative", "title": null},
  "y": {"field": "f", "type": "quantitative", "title": null}
 }},
{"data": {"name": "ma"},
 "transform": [{"filter": "datum.i >= 0 && datum.i <= 257"}],
 "mark": {"type": "line", "color": "#FF0000", "strokeWidth": 2.4},
 "encoding": {
  "x": {"field": "i", "type": "quantitative", "title": null},
  "y": {"field": "s", "type": "quantitative", "title": null}
 }},
{"data": {"name": "arrows"},
 "mark": {"type": "point", "filled": true, "size": 169, "opacity": 1, "strokeWidth": 0},
 "encoding": {
  "x": {"field": "i", "type": "quantitative", "title": null},
  "y": {"field": "p", "type": "quantitative", "title": null},
  "shape": {"field": "d", "type": "nominal", "legend": null, "scale": {"domain": ["down", "up"], "range": ["M-0.16,-1L0.16,-1L0.16,0.35L0.42,0.35L0,1L-0.42,0.35L-0.16,0.35Z", "M-0.16,1L0.16,1L0.16,-0.35L0.42,-0.35L0,-1L-0.42,-0.35L-0.16,-0.35Z"]}},
  "color": {"condition": {"test": "datum.d == 'up'", "value": "#0000FF"}, "value": "#FF1E1E"}
 }},
{"data": {"values": [{}]},
 "mark": {"type": "text", "text": "© 2019 NinjaTrader, LLC", "font": "Liberation Sans", "fontSize": 11, "align": "left", "baseline": "middle", "color": "#000000"},
 "encoding": {"x": {"datum": -0.57, "type": "quantitative"}, "y": {"datum": 59.2379, "type": "quantitative"}}},
{"data": {"values": [{}]},
 "mark": {"type": "text", "text": "CL 02-20", "font": "Liberation Sans", "fontSize": 9.5, "align": "left", "baseline": "middle", "color": "#000000"},
 "encoding": {"x": {"datum": -0.85, "type": "quantitative"}, "y": {"datum": 59.173, "type": "quantitative"}}},
{"data": {"values": [{}]},
 "mark": {"type": "text", "text": "→", "font": "DejaVu Sans", "fontSize": 27, "align": "center", "baseline": "middle", "color": "#000000"},
 "encoding": {"x": {"datum": 259.5, "type": "quantitative"}, "y": {"datum": 60.4275, "type": "quantitative"}}},
{"data": {"values": [{}]},
 "mark": {"type": "point", "filled": true, "size": 2209, "shape": "M-1,0L-0.62,-0.34L1,-0.34L1,0.34L-0.62,0.34Z", "color": "#DADADA", "stroke": "#4A4A4A", "strokeWidth": 1, "opacity": 1},
 "encoding": {"x": {"datum": 265.2, "type": "quantitative"}, "y": {"datum": 59.952, "type": "quantitative"}}},
{"data": {"values": [{}]},
 "mark": {"type": "text", "text": "59.95", "font": "Liberation Sans", "fontSize": 11, "align": "center", "baseline": "middle", "color": "#000000"},
 "encoding": {"x": {"datum": 265.9, "type": "quantitative"}, "y": {"datum": 59.952, "type": "quantitative"}}},
{"data": {"values": [{}]},
 "mark": {"type": "point", "filled": false, "size": 100, "shape": "circle", "stroke": "#A03A3A", "strokeWidth": 1.5, "opacity": 1},
 "encoding": {"x": {"datum": 246.0, "type": "quantitative"}, "y": {"datum": 59.1743, "type": "quantitative"}}},
{"data": {"values": [{}]},
 "mark": {"type": "text", "text": "NINJA", "font": "DejaVu Sans", "fontSize": 14, "fontWeight": "normal", "align": "right", "baseline": "middle", "color": "#858585"},
 "encoding": {"x": {"datum": 254.5, "type": "quantitative"}, "y": {"datum": 59.1743, "type": "quantitative"}}},
{"data": {"values": [{}]},
 "mark": {"type": "text", "text": "TRADER®", "font": "DejaVu Sans", "fontSize": 14, "fontWeight": "bold", "align": "left", "baseline": "middle", "color": "#A3282E"},
 "encoding": {"x": {"datum": 254.6, "type": "quantitative"}, "y": {"datum": 59.1743, "type": "quantitative"}}}
]
}
